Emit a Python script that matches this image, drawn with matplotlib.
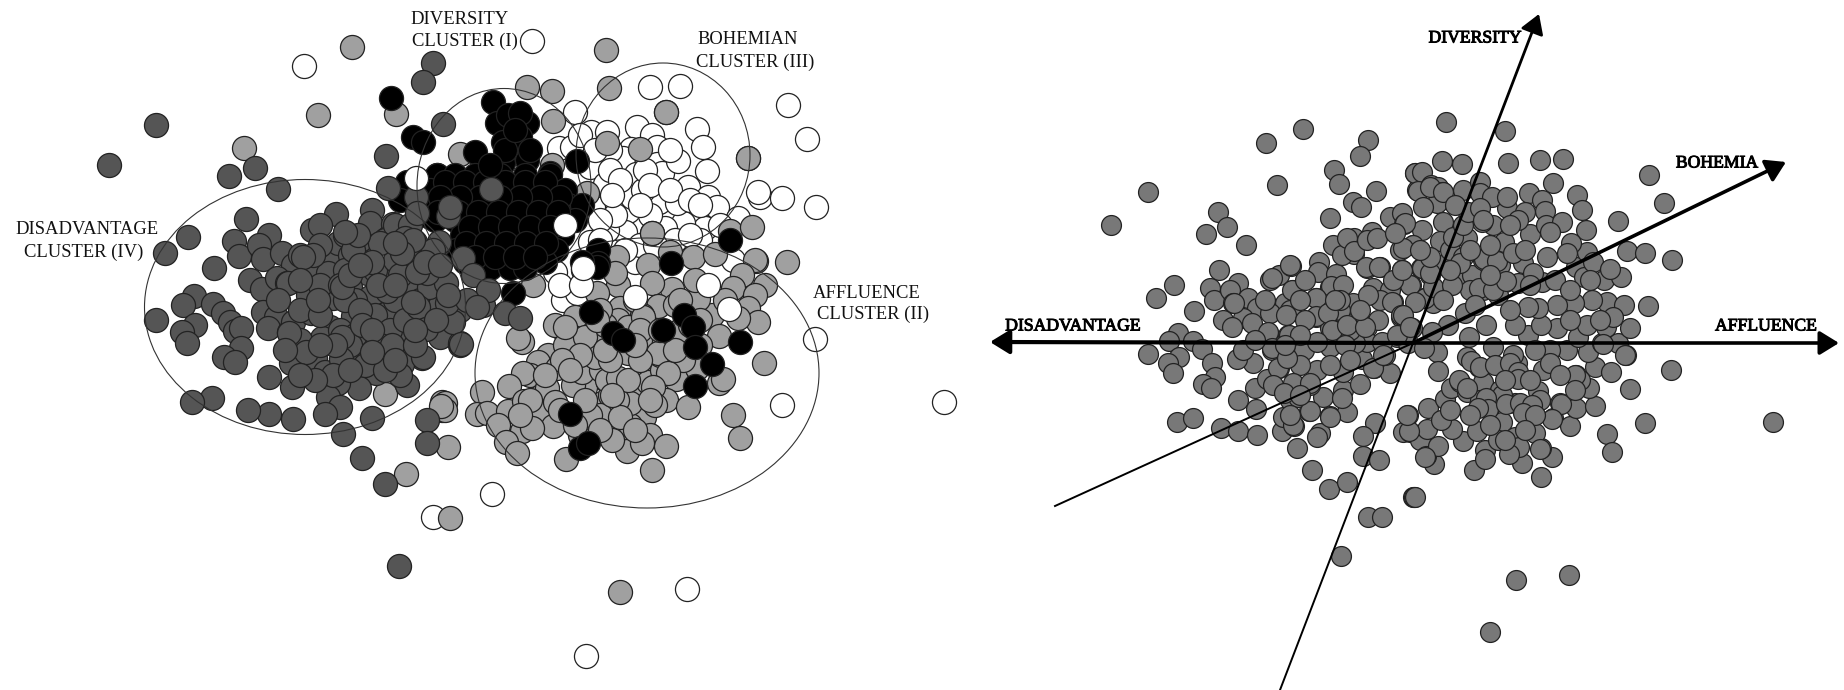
import numpy as np
from matplotlib import pyplot as plt
from matplotlib.patches import Ellipse
import matplotlib.patheffects as pe

plt.rcParams['font.family'] = ['Liberation Serif', 'DejaVu Serif']

WIDTH = 1844
HEIGHT = 690

disadvantage_pts = [
    (156,125),(109,165),(433,63),(423,82),(443,124),(386,156),(255,168),(229,176),(278,189),(388,188),
    (416,197),(448,216),(246,219),(188,237),(165,253),(214,268),(234,241),(239,256),(336,214),(312,230),
    (320,225),(372,210),(370,223),(393,224),(386,239),(269,235),(259,245),(263,259),(282,253),(293,265),
    (250,280),(262,289),(277,278),(287,283),(263,312),(276,317),(268,328),(289,332),(293,322),
    (308,295),(311,313),(310,272),(328,259),(338,243),(328,273),(333,298),(353,316),(330,327),(322,338),
    (307,353),(315,358),(342,358),(360,358),(369,340),(367,273),(367,253),(350,287),(370,297),(387,288),
    (384,272),(385,240),(407,285),(415,259),(403,238),(415,242),(430,287),(431,306),(412,307),(385,314),
    (445,282),(453,320),(425,328),(440,337),(460,345),(402,343),(422,358),(402,364),(383,352),(376,373),
    (345,373),(325,372),(291,363),(269,377),(292,387),(359,388),(338,383),(328,397),(407,385),(400,375),
    (340,407),(325,414),(293,419),(269,414),(248,410),(212,398),(192,402),(372,418),(343,434),(427,420),
    (427,443),(362,458),(194,296),(183,305),(156,320),(195,325),(182,332),(187,343),(213,304),(223,313),
    (230,322),(235,331),(241,328),(241,348),(224,357),(235,362),(463,258),(473,275),(483,305),(488,290),
    (505,313),(520,318),(460,343),(438,245),(491,189),(350,255),(345,270),(355,300),(375,315),(395,300),
    (340,330),(355,335),(390,330),(375,270),(395,260),(345,235),(360,240),(320,245),(300,255),(300,310),
    (320,315),(345,300),(365,365),(350,345),(385,370),(405,320),(420,300),(440,305),(460,310),(410,260),
    (430,255),(400,275),(360,310),(380,345),(300,340),(320,285),(340,285),(395,225),(410,225),
    (439,242),(433,250),(405,238),(413,240),(429,287),(446,283),(418,307),(387,291),(289,333),(288,283),
    (426,329),(453,322),(461,344),(423,357),(341,359),(306,352),(333,375),(342,337),(413,302),(447,303),
    (467,300),(477,307),(427,273),(417,272),(402,253),(353,250),(313,255),(303,257),(342,287),(350,275),
    (380,243),(358,235),(345,232),(417,213),(450,207),(372,262),(360,265),(378,285),(395,285),(362,325),
    (372,330),(392,345),(415,345),(372,352),(335,345),(320,345),(318,300),(300,280),(395,243),(425,262),
    (440,265),(448,295),(436,320),(415,330),(395,360),(350,370),(315,380),(300,375),(285,350),(278,300),
    (399,566),(385,484),
]
affluence_pts = [
    (352,47),(318,115),(244,148),(396,114),(460,154),(385,394),(442,402),(442,410),(448,447),(606,50),
    (527,87),(552,91),(609,88),(553,121),(666,112),(640,149),(748,158),(552,165),(587,193),(652,233),
    (730,231),(752,227),(670,252),(756,261),(787,262),(693,257),(715,254),(617,257),(648,265),(533,285),
    (755,260),(742,275),(733,288),(765,285),(755,295),(748,308),(758,322),(738,318),(712,315),(698,299),
    (672,289),(652,283),(618,285),(615,273),(658,306),(620,308),(642,315),(618,320),(597,293),(575,317),
    (522,342),(518,338),(719,336),(764,363),(654,339),(647,365),(622,350),(628,327),(573,337),(560,327),
    (555,325),(592,340),(579,354),(548,355),(538,362),(557,368),(530,375),(523,373),(509,386),(482,392),
    (477,414),(487,413),(508,411),(498,425),(524,401),(542,395),(538,410),(547,388),(555,402),(553,426),
    (522,431),(532,428),(506,442),(517,453),(566,459),(580,435),(597,425),(590,417),(602,403),(585,387),
    (573,385),(582,372),(601,370),(595,357),(608,382),(620,380),(630,380),(629,390),(640,383),(648,382),
    (662,370),(676,379),(666,400),(688,407),(719,383),(723,379),(697,368),(683,360),(733,415),(740,438),
    (644,417),(623,432),(618,422),(630,425),(650,435),(666,446),(627,451),(642,443),(612,440),(652,470),
    (630,403),(617,400),(445,403),(445,410),(450,518),(620,592),(672,340),(690,340),(660,355),(640,340),
    (615,340),(605,325),(635,300),(680,330),(700,345),(675,305),(695,280),(610,395),(600,415),(575,350),
    (600,310),(530,400),(565,345),(520,415),
    (643,317),(585,337),(580,355),(607,380),(618,378),(628,380),(590,415),(620,417),(562,360),(565,327),
    (658,353),(668,373),(653,387),(640,330),(628,353),(597,320),(610,360),(612,395),(640,360),(660,330),
    (690,325),(700,320),(725,300),(680,300),(635,345),(655,405),(605,350),(585,400),(570,370),(545,375),
    (560,410),(575,425),(600,430),(635,430),(650,400),(675,350),(406,474),(441,406),
]
affluence_top = [(607,143),(652,233),(666,112),(748,158)]
bohemian_pts = [
    (532,41),(304,66),(650,87),(680,86),(788,105),(807,139),(575,112),(591,132),(607,132),(637,127),
    (697,129),(703,147),(652,135),(657,147),(631,149),(623,158),(559,148),(572,147),(657,164),(662,173),
    (678,161),(707,171),(636,174),(590,167),(605,184),(688,187),(708,197),(760,197),(782,198),(816,207),
    (758,192),(659,202),(628,211),(696,216),(717,207),(705,228),(683,223),(665,228),(625,232),(607,230),
    (593,207),(632,197),(677,203),(643,190),(590,242),(738,218),(555,272),(563,300),(577,293),(635,262),
    (733,260),(815,339),(782,405),(944,402),(492,494),(687,589),(586,656),(433,517),(610,150),(615,215),
    (650,215),(640,245),(675,240),(700,240),(590,265),(600,220),(720,225),(560,285),(610,170),(645,170),
    (620,180),(650,185),(670,190),(690,200),(640,205),(612,195),(600,240),(655,245),(625,250),(690,235),
    (700,205),(670,150),(580,135),(595,150),
]
bohemian_top = [(565,225),(581,285),(635,297),(708,285),(729,309),(583,268),(416,178)]
diversity_pts = [
    (391,98),(493,102),(413,137),(423,142),(512,123),(497,123),(527,123),(508,115),(520,113),(503,142),
    (520,137),(475,152),(503,163),(527,160),(437,175),(577,161),(407,182),(400,200),(430,217),(550,173),
    (578,207),(513,293),(598,250),(598,263),(583,270),(597,267),(671,263),(730,240),(591,312),(613,333),
    (623,340),(663,330),(684,315),(693,327),(695,347),(740,342),(712,364),(695,386),(570,414),(580,448),
    (588,443),(582,262),
    (437,175),(455,175),(475,175),(500,175),(525,175),(550,175),
    (430,190),(450,190),(470,190),(490,190),(510,190),(530,190),(550,190),(565,190),
    (428,205),(448,205),(468,205),(488,205),(508,205),(528,205),(548,205),(568,205),(582,205),
    (435,220),(455,220),(475,220),(495,220),(515,220),(535,220),(555,220),(575,220),
    (462,235),(482,235),(502,235),(522,235),(542,235),(562,235),
    (456,250),(476,250),(496,250),(516,250),(536,250),(556,250),
    (465,262),(485,262),(505,262),(525,262),(545,262),
    (490,268),(510,268),(525,268),
    (445,182),(465,182),(485,182),(505,182),(525,182),(545,182),(560,197),(540,197),(520,197),(500,197),
    (480,197),(460,197),(440,197),(438,212),(458,212),(478,212),(498,212),(518,212),(538,212),(558,212),
    (470,227),(490,227),(510,227),(530,227),(550,227),(466,243),(486,243),(506,243),(526,243),(546,243),
    (475,257),(495,257),(515,257),(535,257),(505,150),(490,165),(515,130),(530,150),
]

cluster_labels = [
    ('DISADVANTAGE', 87, 230), ('CLUSTER (IV)', 84, 252),
    ('DIVERSITY', 460, 20), ('CLUSTER (I)', 465, 41),
    ('BOHEMIAN', 748, 40), ('CLUSTER (III)', 755, 62),
    ('AFFLUENCE', 867, 293), ('CLUSTER (II)', 873, 314),
]
# centre x, centre y, width, height
cluster_rings = [
    (305, 307, 321, 255),
    (504, 186, 174, 195),
    (663, 155, 174, 184),
    (647, 373, 344, 270),
]

right_pts = [
    (1148,192),(1111,225),(1266,143),(1303,129),(1368,140),(1360,156),(1334,170),(1339,184),(1277,185),(1376,191),
    (1415,173),(1417,190),(1353,202),(1361,207),(1330,218),(1218,212),(1227,227),(1206,234),(1246,245),(1219,270),
    (1174,285),(1156,298),(1194,311),(1210,288),(1214,300),(1238,283),(1230,290),(1233,303),(1248,298),(1257,308),
    (1243,318),(1223,320),(1232,327),(1178,333),(1169,341),(1193,341),(1202,349),(1148,354),(1179,357),(1168,363),
    (1173,373),(1212,363),(1215,377),(1203,384),(1211,388),(1238,400),(1255,388),(1256,409),(1177,422),(1193,418),
    (1221,428),(1238,431),(1257,435),(1282,431),(1294,426),(1283,417),(1297,448),(1312,470),(1329,489),(1347,482),
    (1320,433),(1317,437),(1330,416),(1309,411),(1347,412),(1343,390),(1360,384),(1323,397),(1295,385),(1310,385),
    (1267,379),(1279,368),(1253,363),(1237,359),(1243,350),(1272,350),(1288,335),(1268,333),(1304,350),(1317,370),
    (1330,347),(1347,323),(1367,327),(1353,303),(1316,317),(1330,287),(1316,298),(1285,303),(1279,275),(1270,280),
    (1291,266),(1293,290),(1319,262),(1318,272),(1336,274),(1354,254),(1354,238),(1333,245),(1342,255),(1372,232),
    (1367,268),(1380,267),(1373,288),(1393,302),(1401,317),(1412,328),(1402,270),(1411,285),(1390,217),(1402,213),
    (1404,224),(1413,245),(1362,359),(1374,368),(1390,373),(1385,355),(1367,342),(1355,343),(1378,320),(1330,328),
    (1397,337),(1408,343),(1375,423),(1363,436),(1363,456),(1379,460),(1408,415),(1403,432),(1410,432),(1413,497),
    (1420,440),
    (1446,122),(1505,131),(1442,161),(1462,164),(1508,163),(1540,160),(1563,159),(1553,183),(1415,173),(1422,172),
    (1418,191),(1431,185),(1438,187),(1442,192),(1463,190),(1480,182),(1480,193),(1437,203),(1423,207),(1507,208),
    (1492,197),(1529,193),(1542,200),(1545,211),(1525,212),(1507,197),(1577,195),(1582,210),(1586,230),(1649,175),
    (1664,203),(1618,221),(1627,251),(1645,253),(1672,260),(1648,306),(1671,370),(1630,389),(1645,423),(1607,434),
    (1612,452),(1773,422),(1541,477),(1414,497),(1552,457),(1474,470),(1434,464),(1426,456),(1438,446),(1463,441),
    (1452,429),(1477,431),(1427,429),(1409,431),(1407,415),(1428,408),(1445,399),(1451,388),(1467,392),(1460,382),
    (1479,367),(1483,382),(1489,408),(1502,422),(1518,447),(1485,450),(1485,459),(1498,440),(1522,463),(1541,448),
    (1535,433),(1524,410),(1515,403),(1508,403),(1538,391),(1553,418),(1560,403),(1570,426),(1576,408),(1595,406),
    (1589,388),(1576,375),(1595,367),(1611,372),(1543,370),(1517,378),(1517,363),(1493,347),(1513,355),(1567,350),
    (1588,352),(1602,343),(1618,343),(1626,355),(1630,328),(1606,327),(1578,337),(1557,328),(1528,335),(1541,325),
    (1515,325),(1486,325),(1469,337),(1448,325),(1432,332),(1437,352),(1424,348),(1438,371),(1465,313),(1433,303),
    (1424,298),(1410,285),(1421,268),(1457,278),(1472,275),(1483,260),(1505,282),(1498,295),(1523,263),(1547,257),
    (1576,267),(1587,252),(1584,277),(1604,280),(1621,277),(1607,302),(1624,305),(1592,300),(1574,303),(1557,305),
    (1538,308),(1528,307),(1613,317),(1587,325),(1504,242),(1530,234),(1546,225),(1571,243),(1562,222),(1542,282),
    (1518,283),(1493,225),(1482,222),(1443,222),(1422,230),(1440,241),(1413,245),(1467,238),(1405,223),(1483,290),
    (1440,265),(1400,250),(1390,290),(1350,330),(1300,365),(1290,310),(1510,310),(1550,350),(1580,380),(1470,290),
    (1450,250),(1430,275),(1500,390),(1540,400),(1480,400),(1290,400),(1340,310),(1380,300),(1570,320),(1500,265),
]
right_extra_pts = [
    (1272,278),(1290,265),(1292,290),(1331,286),(1343,285),(1316,298),(1234,303),(1252,323),(1270,313),(1268,332),
    (1289,335),(1286,315),(1316,316),(1328,313),(1332,330),(1347,325),(1365,327),(1382,342),(1397,335),(1317,342),
    (1272,348),(1278,368),(1287,358),(1273,385),(1293,383),(1310,383),(1343,372),(1342,398),(1373,368),(1383,355),
    (1298,397),(1284,393),(1310,411),(1330,417),(1293,425),(1290,415),(1347,238),(1354,251),(1367,240),(1377,238),
    (1366,267),(1379,267),(1368,295),(1392,302),(1401,315),(1393,280),(1425,298),(1403,248),(1395,233),(1422,268),
    (1433,287),(1415,302),(1430,187),(1443,192),(1453,237),(1463,225),(1468,212),(1480,208),(1483,220),(1518,220),
    (1550,232),(1484,259),(1497,261),(1513,253),(1567,253),(1593,262),(1610,269),(1463,257),(1460,263),(1452,285),
    (1479,288),(1493,290),(1506,281),(1533,273),(1403,315),(1443,300),(1410,327),(1402,270),(1430,273),(1430,257),
    (1420,250),(1467,357),(1471,361),(1480,367),(1495,365),(1510,363),(1518,372),(1518,379),(1550,363),(1575,375),
    (1625,355),(1603,344),(1561,404),(1552,419),(1502,395),(1486,398),(1488,409),(1478,408),(1506,404),(1520,403),
    (1532,405),(1523,413),(1515,437),(1519,447),(1540,449),(1509,454),(1441,420),(1459,380),(1467,388),(1425,457),
    (1340,300),(1305,320),(1300,300),(1305,280),(1335,300),(1345,345),(1360,310),(1300,335),(1285,345),(1255,340),
    (1350,360),(1330,365),(1300,395),(1265,300),(1455,205),(1450,270),(1470,250),(1490,245),(1510,225),(1525,250),
    (1490,275),(1475,305),(1530,285),(1555,280),(1570,290),(1590,280),(1600,320),(1535,350),(1560,375),(1505,380),
    (1530,380),(1470,415),(1490,425),(1450,410),(1535,415),(1505,440),(1525,430),(1575,390),
    (1341,556),(1368,517),(1382,517),(1415,497),(1516,580),(1569,575),(1490,632),
]
right_labels = [
    ('DISADVANTAGE', 1073, 326), ('AFFLUENCE', 1766, 326),
    ('DIVERSITY', 1475, 38), ('BOHEMIA', 1717, 163),
]
origin = (1413, 343)
# tip x, tip y, line width
arrow_tips = [(990, 342, 3.0), (1839, 343, 2.6), (1786, 162, 2.6), (1539, 14, 2.0)]
# the thin parts running past the origin
tail_ends = [(1055, 506), (1280, 690)]

fig = plt.figure(figsize=(WIDTH / 100, HEIGHT / 100), dpi=100)
ax = fig.add_axes([0, 0, 1, 1])
ax.set_xlim(0, WIDTH)
ax.set_ylim(HEIGHT, 0)
ax.axis('off')


def dots(pts, color, size=300, z=2):
    pts = np.array(pts)
    ax.scatter(pts[:, 0], pts[:, 1], s=size, c=color, edgecolors='#222222', linewidths=0.9, zorder=z)


# Left panel, drawn in layers.
dots(bohemian_pts, 'white', z=2)
dots(affluence_pts, '#a0a0a0', z=3)
dots(diversity_pts, 'black', z=4)
dots(disadvantage_pts, '#555555', z=5)
dots(bohemian_top, 'white', z=6)
dots(affluence_top, '#a0a0a0', z=6)

for x, y, w, h in cluster_rings:
    ax.add_patch(Ellipse((x, y), w, h, fill=False, edgecolor='#333333', linewidth=0.8, zorder=7))

for label, x, y in cluster_labels:
    ax.text(x, y, label, fontsize=13.4, ha='center', va='center', color='#111111', zorder=8)

# Right panel.
dots(right_pts + right_extra_pts, '#787878', size=205, z=2)

for x, y in tail_ends:
    ax.plot([origin[0], x], [origin[1], y], color='black', linewidth=1.4, zorder=3)

for x, y, lw in arrow_tips:
    ax.annotate('', xy=(x, y), xytext=origin, zorder=4,
                arrowprops=dict(arrowstyle='-|>,head_length=0.65,head_width=0.4', mutation_scale=18,
                                color='black', linewidth=lw, shrinkA=0, shrinkB=0))

for label, x, y in right_labels:
    ax.text(x, y, label, fontsize=12.7, ha='center', va='center', color='black', zorder=5,
            path_effects=[pe.withStroke(linewidth=0.7, foreground='black')])

fig.savefig('out.png', dpi=100)
